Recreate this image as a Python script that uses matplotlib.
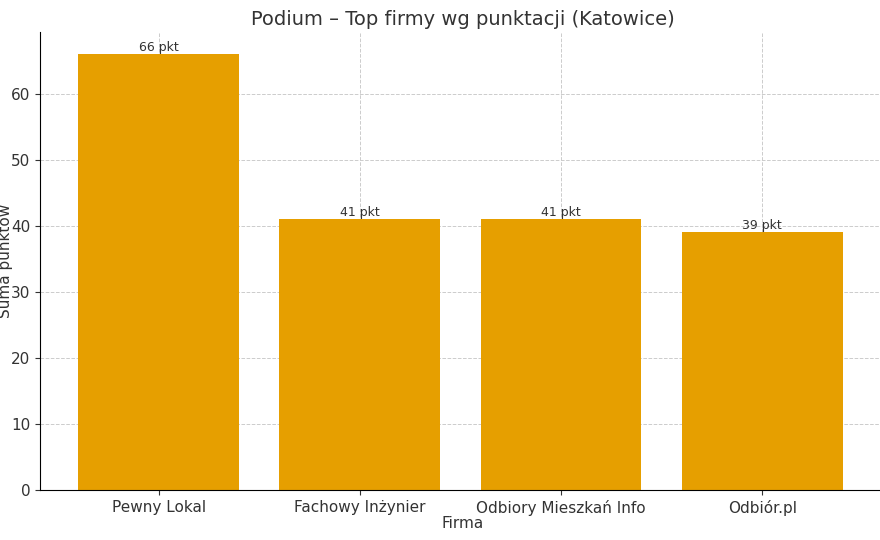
import matplotlib
matplotlib.use("Agg")
import matplotlib.pyplot as plt

firms = ["Pewny Lokal", "Fachowy Inżynier", "Odbiory Mieszkań Info", "Odbiór.pl"]
points = [66, 41, 41, 39]

fig = plt.figure(figsize=(8.8, 5.4), dpi=100)
ax = fig.add_axes([0.0455, 0.0926, 0.96, 0.848])
bars = ax.bar(range(len(firms)), points, width=0.8, color="#E69F00", zorder=2)
for i, v in enumerate(points):
    ax.text(i, v, f"{v} pkt", ha="center", va="bottom", fontsize=9, color="#333333")
ax.set_xticks(range(len(firms)))
ax.set_xticklabels(firms, fontsize=11)
ax.set_xlim(-0.59, 3.61)
ax.set_ylim(0, 69.3)
ax.set_yticks([0, 10, 20, 30, 40, 50, 60])
ax.tick_params(labelsize=11, colors="#333333")
ax.grid(True, linestyle="--", color="#cccccc", linewidth=0.7, zorder=0)
ax.set_axisbelow(True)
for s in ["top", "right"]:
    ax.spines[s].set_visible(False)
ax.set_xlabel("Firma", fontsize=11, color="#333333", labelpad=0)
ax.set_ylabel("Suma punktów", fontsize=11, color="#333333")
ax.yaxis.set_label_coords(-0.032, 0.5)
ax.set_title("Podium – Top firmy wg punktacji (Katowice)", fontsize=14, color="#333333", pad=5)
fig.savefig("out.png", dpi=100)
